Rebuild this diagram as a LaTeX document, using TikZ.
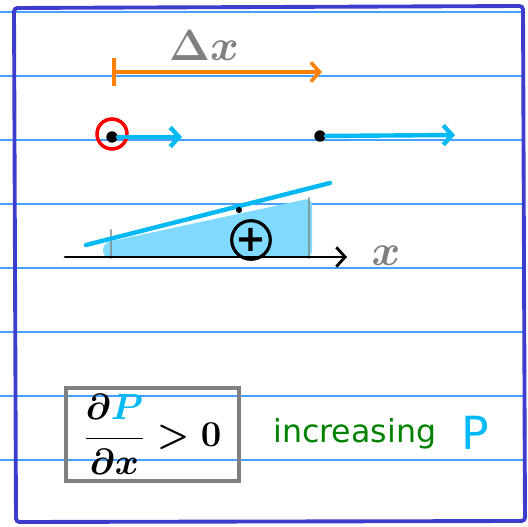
\documentclass[tikz,border=0pt]{standalone}
\usepackage{fontspec}
\newfontfamily\labelfont{DejaVu Sans}
\definecolor{pageblue}{RGB}{60, 60, 205}
\definecolor{ruleblue}{RGB}{70, 160, 255}
\definecolor{penorange}{RGB}{255, 128, 0}
\definecolor{pencyan}{RGB}{0, 185, 245}
\definecolor{fillcyan}{RGB}{128, 218, 255}
\definecolor{pengreen}{RGB}{0, 130, 0}
\definecolor{pengray}{RGB}{128, 128, 128}
\usetikzlibrary{arrows.meta}
\tikzset{
  ruled/.style={ruleblue, line width=0.9pt},
  pen/.style={line width=#1, line cap=round, line join=round},
  barb/.style={-{Straight Barb[length=5pt, width=11pt]}},
  dot/.style={circle, fill=black, inner sep=0pt, minimum size=6.5pt},
}

\begin{document}
\begin{tikzpicture}[x=0.02cm, y=-0.02cm]
\useasboundingbox (0,0) rectangle (528,527);
\foreach \y in {12,76,...,460} \draw[ruled] (0,\y) -- (525,\y);

\node[pengray, font=\fontsize{23}{23}\selectfont\boldmath] (dx) at (204,46) {$\Delta x$};
\coordinate (dxstart) at (112,72);
\coordinate (dxend) at (322,72);
\draw[penorange, pen=2pt, {Bar[width=16pt]}-{Straight Barb[length=5pt, width=11pt]}] (dxstart) -- (dxend);

\node[dot] (pold) at (112,137) {};
\node[draw=red, line width=2pt, circle, minimum size=0.6cm, inner sep=0pt] (ring) at (112,134) {};
\coordinate (poldend) at (182,137);
\draw[pencyan, pen=2.5pt, barb] (pold) -- (poldend);
\node[dot] (pnew) at (320,136) {};
\coordinate (pnewend) at (455,135);
\draw[pencyan, pen=2.5pt, barb] (pnew) -- (pnewend);

\fill[fillcyan, rounded corners=4pt] (103,258) -- (103,243) -- (312,198) -- (312,258) -- cycle;
\draw[pengray, opacity=0.7, pen=1.2pt] (111,230) -- (111,258);
\draw[pengray, opacity=0.7, pen=1.2pt] (309,198) -- (309,258);
\coordinate (slopestart) at (86,245);
\coordinate (slopeend) at (330,183);
\draw[pencyan, pen=2.5pt] (slopestart) -- (slopeend);
\node[dot, minimum size=3.5pt] (mid) at (239,210) {};
\coordinate (xorigin) at (65,257);
\coordinate (xend) at (347,257);
\draw[black, pen=1.6pt, barb] (xorigin) -- (xend);
\node[pengray, font=\fontsize{27}{27}\selectfont\boldmath] (xlab) at (386,256) {$x$};
\node[circle, draw, line width=1.8pt, minimum size=0.68cm, inner sep=0pt, font=\labelfont\fontsize{21}{21}\selectfont\bfseries] (plus) at (251,240) {+};

\node[draw=pengray, line width=1.8pt, minimum width=3.46cm, minimum height=1.86cm, font=\fontsize{21}{24}\selectfont\boldmath] (cond) at (152.5,434.5) {$\displaystyle\frac{\partial \textcolor{pencyan}{P}}{\partial x} > 0$};
\node[anchor=base west, inner sep=0pt, pengreen, font=\labelfont\fontsize{18}{18}\selectfont] (incr) at (273,442) {increasing};
\node[anchor=base west, inner sep=0pt, pencyan, font=\labelfont\fontsize{26}{26}\selectfont] (pname) at (461,449) {P};

\draw[pageblue, line width=2.2pt, rounded corners=2pt] (14,8) -- (523,6) -- (525,521) -- (16,522) -- cycle;
\end{tikzpicture}
\end{document}
